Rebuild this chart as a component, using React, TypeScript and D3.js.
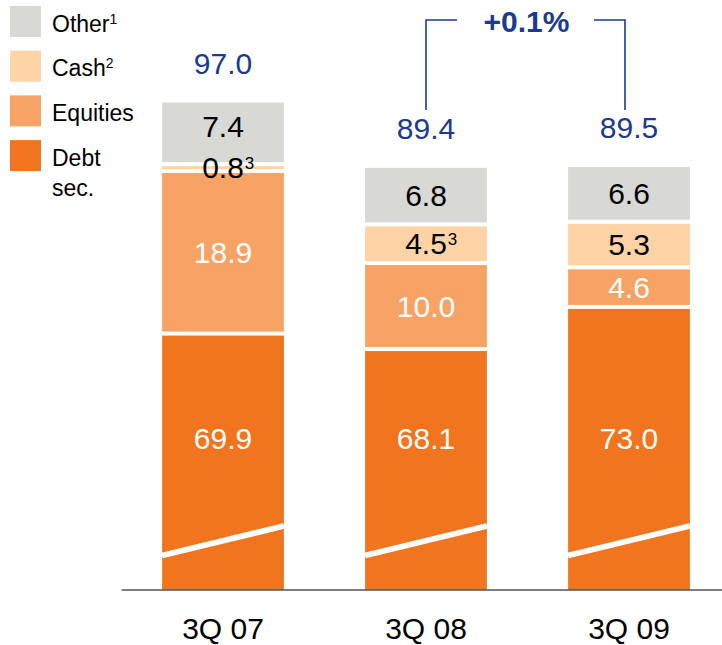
import React from "react";
import * as d3 from "d3";

const categories = ["3Q 07", "3Q 08", "3Q 09"];
const debtSec = [69.9, 68.1, 73.0];
const equities = [18.9, 10.0, 4.6];
const cash = [0.8, 4.5, 5.3];
const other = [7.4, 6.8, 6.6];
const totalLabels = ["97.0", "89.4", "89.5"];
const cashNotes = ["3", "3", ""];
const changeLabel = "+0.1%";
const seriesKeys = ["debt", "equities", "cash", "other"];
const legendLabels = [
  { key: "other", text: "Other", sup: "1" },
  { key: "cash", text: "Cash", sup: "2" },
  { key: "equities", text: "Equities", sup: "" },
  { key: "debt", text: "Debt", sup: "", line2: "sec." },
];

const W = 722;
const H = 645;
const FONT = "'Liberation Sans', Arial, Helvetica, sans-serif";
const BLUE = "#1c3a8e";
const colors: Record<string, string> = {
  other: "#d8d8d4",
  cash: "#fed3a5",
  equities: "#f7a366",
  debt: "#f1751f",
};
const textColors: Record<string, string> = {
  other: "#000",
  cash: "#000",
  equities: "#fff",
  debt: "#fff",
};

const baseline = 590;
const axisBreak = 40.2; // value hidden by the broken axis
const pxPerUnit = 8.6;

function textWidth(s: string, size: number) {
  let w = 0;
  for (const c of s) w += c === "." ? 0.278 : 0.556;
  return w * size;
}

export default function App() {
  const rows = categories.map((c, i) => ({
    cat: c,
    debt: debtSec[i],
    equities: equities[i],
    cash: cash[i],
    other: other[i],
  }));
  const stack = d3.stack<any>().keys(seriesKeys);
  const series = stack(rows);

  const x = d3
    .scaleBand<string>()
    .domain(categories)
    .range([121.5, 730.5])
    .paddingInner(0.4)
    .paddingOuter(0.2);
  const maxTotal = 97;
  const y = d3
    .scaleLinear()
    .domain([axisBreak, maxTotal])
    .range([baseline, baseline - (maxTotal - axisBreak) * pxPerUnit]);

  const bw = x.bandwidth();
  const breakLeft = 34.5;
  const breakRight = 64;
  const breakMid = baseline - (breakLeft + breakRight) / 2;
  const debtTops = series[0].map((d) => y(d[1]));
  const debtLabelY = (d3.mean(debtTops)! + breakMid) / 2 + 2;

  const valSize = 30;
  const cx = (c: string) => (x(c) ?? 0) + bw / 2;

  const xl = cx(categories[1]);
  const xr = cx(categories[2]) - 4;
  const xm = (xl + xr) / 2;
  const bracketY = 20;
  const halfText = 45;
  const gap = 23.5;
  const bracketBottom = y(+totalLabels[1]) - 28 - 29;

  return (
    <svg
      width={W}
      height={H}
      style={{ position: "absolute", left: 0, top: 0, background: "#fff" }}
      fontFamily={FONT}
    >
      {/* Legend */}
      {legendLabels.map((l, i) => {
        const top = 6 + i * 44.7;
        return (
          <g key={l.key}>
            <rect x={10} y={top} width={31} height={31} fill={colors[l.key]} />
            <text x={52} y={top + 25.5} fontSize={23} fill="#000">
              {l.text}
              {l.sup && (
                <tspan fontSize={14} dy={-8}>
                  {l.sup}
                </tspan>
              )}
            </text>
            {l.line2 && (
              <text x={52} y={top + 55.5} fontSize={23} fill="#000">
                {l.line2}
              </text>
            )}
          </g>
        );
      })}

      {/* Bars */}
      {series.map((s) => {
        const key = s.key;
        return (
          <g key={key}>
            {s.map((d, i) => {
              const c = categories[i];
              const top = y(d[1]);
              const bottom = key === "debt" ? baseline : y(d[0]);
              const y0 = top + 1;
              const y1 = key === "debt" ? baseline : bottom - 3;
              return (
                <rect
                  key={c}
                  x={x(c)}
                  y={y0}
                  width={bw}
                  height={Math.max(0, y1 - y0)}
                  fill={colors[key]}
                />
              );
            })}
          </g>
        );
      })}

      {/* Break marks */}
      {categories.map((c) => (
        <line
          key={"br" + c}
          x1={x(c)}
          x2={(x(c) ?? 0) + bw}
          y1={baseline - breakLeft}
          y2={baseline - breakRight}
          stroke="#fff"
          strokeWidth={5.8}
        />
      ))}

      {/* Segment labels */}
      {series.map((s, si) => {
        const key = s.key;
        return (
          <g key={"lbl" + key}>
            {s.map((d, i) => {
              const c = categories[i];
              const val = (d[1] - d[0]).toFixed(1);
              let center: number;
              if (key === "debt") {
                center = debtLabelY;
              } else {
                center = (y(d[1]) + 1 + y(d[0]) - 3) / 2;
                if (key === "other") {
                  const below = series[si - 1][i];
                  const belowH = y(below[0]) - y(below[1]);
                  if (belowH < 20) center -= 6;
                }
              }
              const base = center + (0.716 * valSize) / 2;
              const note = key === "cash" ? cashNotes[i] : "";
              return (
                <g key={c}>
                  <text
                    x={cx(c)}
                    y={base}
                    fontSize={valSize}
                    textAnchor="middle"
                    fill={textColors[key]}
                  >
                    {val}
                  </text>
                  {note && (
                    <text
                      x={cx(c) + textWidth(val, valSize) / 2 + 1}
                      y={base - 0.716 * valSize + 12}
                      fontSize={17}
                      fill={textColors[key]}
                    >
                      {note}
                    </text>
                  )}
                </g>
              );
            })}
          </g>
        );
      })}

      {/* Totals */}
      {categories.map((c, i) => (
        <text
          key={"tot" + c}
          x={cx(c)}
          y={y(+totalLabels[i]) - 28}
          fontSize={valSize}
          textAnchor="middle"
          fill={BLUE}
        >
          {totalLabels[i]}
        </text>
      ))}

      {/* Change bracket */}
      <path
        d={`M${xl},${bracketBottom} V${bracketY} H${xm - halfText - gap}`}
        fill="none"
        stroke={BLUE}
        strokeWidth={1.6}
      />
      <path
        d={`M${xr},${bracketBottom} V${bracketY} H${xm + halfText + gap}`}
        fill="none"
        stroke={BLUE}
        strokeWidth={1.6}
      />
      <text
        x={xm + 1}
        y={31.5}
        fontSize={30}
        fontWeight="bold"
        textAnchor="middle"
        fill={BLUE}
      >
        {changeLabel}
      </text>

      {/* Axis */}
      <line
        x1={121.5}
        x2={W}
        y1={baseline}
        y2={baseline}
        stroke="#555"
        strokeWidth={1.5}
      />
      {categories.map((c) => (
        <text
          key={"cat" + c}
          x={cx(c)}
          y={639}
          fontSize={30}
          textAnchor="middle"
          fill="#000"
        >
          {c}
        </text>
      ))}
    </svg>
  );
}
